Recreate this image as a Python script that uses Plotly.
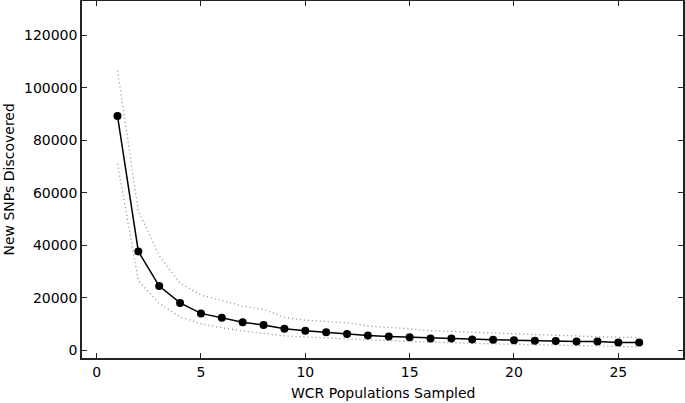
import plotly.graph_objects as go

populations = list(range(1, 27))
new_snps = [89200, 37600, 24400, 18000, 14000, 12300, 10600, 9600, 8100, 7400,
            6800, 6100, 5600, 5200, 4950, 4450, 4450, 4050, 3950, 3800,
            3550, 3450, 3300, 3300, 2950, 2950]
upper_band = [106500, 53000, 36000, 25500, 21000, 19000, 16800, 15500, 12500, 11400,
              11000, 10400, 9200, 8700, 8100, 7400, 7100, 6800, 6400, 6100,
              5900, 5700, 5300, 5100, 4900, 4800]
lower_band = [71000, 26500, 17700, 12700, 10000, 8500, 7300, 6300, 5400, 5000,
              4600, 4200, 3900, 3600, 3300, 3000, 2800, 2600, 2400, 2200,
              2000, 1900, 1700, 1600, 1400, 1300]
x_title = "WCR Populations Sampled"
y_title = "New SNPs Discovered"

font = "DejaVu Sans"
fig = go.Figure()
for band in (upper_band, lower_band):
    fig.add_trace(go.Scatter(x=populations, y=band, mode="lines",
                             line=dict(color="#8c8c8c", width=1.3, dash="1px,3px"),
                             showlegend=False, hoverinfo="skip"))
fig.add_trace(go.Scatter(x=populations, y=new_snps, mode="lines+markers",
                         line=dict(color="black", width=1.5),
                         marker=dict(color="black", size=8),
                         showlegend=False))

axis_common = dict(showgrid=False, zeroline=False, showline=True, linecolor="#222222",
                   linewidth=1.5, mirror="ticks", ticks="inside", ticklen=5,
                   tickcolor="#222222", automargin=False,
                   tickfont=dict(family=font, size=14, color="black"))
fig.update_xaxes(range=[-0.7, 28.1], tickvals=[0, 5, 10, 15, 20, 25], **axis_common)
fig.update_yaxes(range=[-3000, 133000], tickvals=[0, 20000, 40000, 60000, 80000, 100000, 120000],
                 tickformat="d", **axis_common)
fig.add_annotation(text=x_title, xref="paper", yref="paper", x=0.5, y=0, yshift=-35,
                   xanchor="center", yanchor="middle", showarrow=False,
                   font=dict(family=font, size=14, color="black"))
fig.add_annotation(text=y_title, xref="paper", yref="paper", x=0, y=0.5, xshift=-74,
                   textangle=-90, xanchor="center", yanchor="middle", showarrow=False,
                   font=dict(family=font, size=14, color="black"))
fig.update_layout(width=685, height=403, margin=dict(l=82, r=2, t=1, b=45, autoexpand=False),
                  plot_bgcolor="white", paper_bgcolor="white",
                  font=dict(family=font, size=14, color="black"))
fig.write_html("out.html", config={"displayModeBar": False},
               post_script="document.body.style.margin='0';document.body.style.overflow='hidden';")
